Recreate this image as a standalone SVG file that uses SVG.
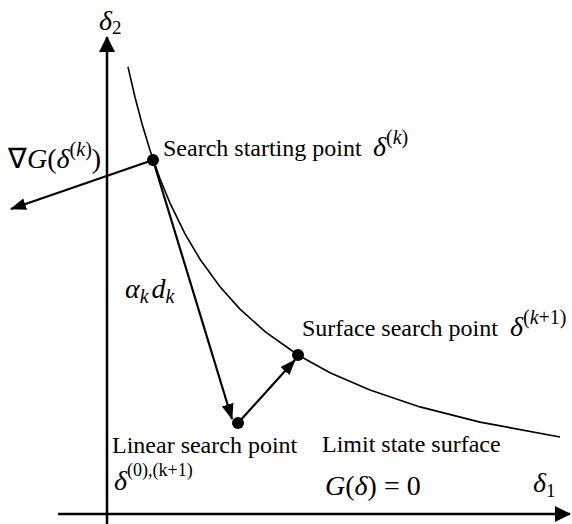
<svg xmlns="http://www.w3.org/2000/svg" width="572" height="524" viewBox="0 0 572 524">
<style>
.t{font-family:"Liberation Serif","Times New Roman",serif;font-size:24px;fill:#000}
.m{font-family:"Liberation Serif","Times New Roman",serif;font-size:28px;fill:#000}
.i{font-style:italic}
.ax{stroke:#000;stroke-width:2.5;fill:none}
.ar{stroke:#000;stroke-width:2.2;fill:none}
.cv{stroke:#000;stroke-width:1.6;fill:none}
</style>
<defs>
<marker id="ah" viewBox="0 0 16 12" refX="15" refY="6" markerWidth="16" markerHeight="12" markerUnits="userSpaceOnUse" orient="auto">
<path d="M0,0 L16,6 L0,12 Z" fill="#000"/>
</marker>
<marker id="ahx" viewBox="0 0 16 16" refX="15" refY="8" markerWidth="16" markerHeight="16" markerUnits="userSpaceOnUse" orient="auto">
<path d="M0,0 L16,8 L0,16 Z" fill="#000"/>
</marker>
</defs>
<g id="axes">
<line class="ax" x1="107" y1="524" x2="107" y2="37" marker-end="url(#ahx)"/>
<line class="ax" x1="58" y1="514" x2="570" y2="514" marker-end="url(#ahx)"/>
<text class="m" x="99" y="30"><tspan class="i">δ</tspan><tspan font-size="19" dy="4">2</tspan></text>
<text class="m" x="533" y="492"><tspan class="i">δ</tspan><tspan font-size="19" dy="5">1</tspan></text>
</g>
<g id="curve">
<path class="cv" d="M128,66.9 L135,97.2 L142,123.7 L150,150.2 L160,178.7 L170,203.1 L185,233.9 L200,259.2 L220,286.8 L240,309.1 L265,331.6 L298,355 L330,372.7 L370,390.1 L420,406.9 L480,422.1 L560,437"/>
<text class="t" x="322" y="452">Limit state surface</text>
<text class="m" x="325" y="495"><tspan class="i">G</tspan>(<tspan class="i">δ</tspan>) = 0</text>
</g>
<g id="connectors">
<line class="ar" x1="153" y1="160" x2="11" y2="209" marker-end="url(#ah)"/>
<line class="ar" x1="153" y1="160" x2="232" y2="419" marker-end="url(#ah)"/>
<line class="ar" x1="238" y1="423" x2="295" y2="360" marker-end="url(#ah)"/>
</g>
<g id="start">
<circle cx="153" cy="160" r="6"/>
<text class="t" x="163" y="156">Search starting point</text>
<text class="m" x="373" y="156"><tspan class="i">δ</tspan><tspan font-size="20" dy="-12">(<tspan class="i">k</tspan>)</tspan></text>
</g>
<g id="gradient">
<text class="m" x="8" y="168">∇<tspan class="i">G</tspan>(<tspan class="i">δ</tspan><tspan font-size="20" dy="-12">(<tspan class="i">k</tspan>)</tspan><tspan dy="12">)</tspan></text>
</g>
<g id="step">
<text class="m" x="125" y="298"><tspan class="i">α</tspan><tspan class="i" font-size="20" dy="5">k</tspan><tspan class="i" dx="3" dy="-5">d</tspan><tspan class="i" font-size="20" dy="5">k</tspan></text>
</g>
<g id="linear">
<circle cx="238" cy="423" r="6"/>
<text class="t" x="112" y="453">Linear search point</text>
<text class="m" x="114" y="490"><tspan class="i">δ</tspan><tspan font-size="18" dy="-14">(0),(k+1)</tspan></text>
</g>
<g id="surface">
<circle cx="298" cy="355" r="6"/>
<text class="t" x="302" y="336">Surface search point</text>
<text class="m" x="510" y="336"><tspan class="i">δ</tspan><tspan font-size="20" dy="-12">(<tspan class="i">k</tspan>+1)</tspan></text>
</g>
</svg>
